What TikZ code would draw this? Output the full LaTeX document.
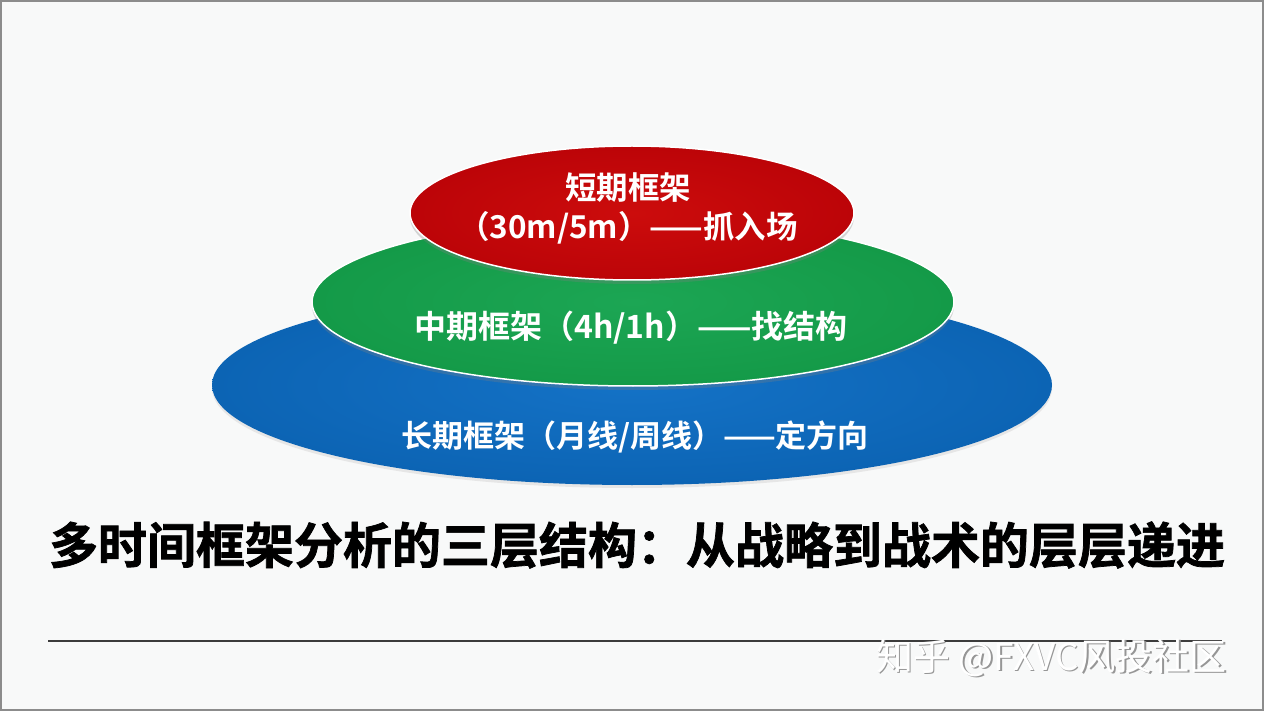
\documentclass[tikz,border=0pt]{standalone}
\usepackage{fontspec}
\newfontfamily\cjk{Noto Sans CJK SC}
\newfontfamily\cjkbold{Noto Sans CJK SC Bold}
\newfontfamily\cjkheavy[FakeBold=1.5]{Noto Sans CJK SC Bold}
\usetikzlibrary{shapes.geometric,shadows}
\definecolor{bg}{RGB}{248,249,249}
\definecolor{frame}{RGB}{140,140,140}
\definecolor{redIn}{RGB}{204,12,12}
\definecolor{redOut}{RGB}{188,4,8}
\definecolor{greenIn}{RGB}{28,166,84}
\definecolor{greenOut}{RGB}{20,154,72}
\definecolor{blueIn}{RGB}{20,114,198}
\definecolor{blueOut}{RGB}{12,100,180}
\definecolor{rule}{RGB}{60,60,60}
\definecolor{wmshadow}{RGB}{150,150,150}
\tikzset{
  layer/.style={ellipse, inner sep=0pt, outer sep=0pt, shading=radial},
  lbl/.style={text=white, font=\cjkbold\fontsize{31}{40}\selectfont, inner sep=0pt},
}
\begin{document}
\begin{tikzpicture}[x=1pt, y=-1pt]
\useasboundingbox (0,0) rectangle (1264,711);
\fill[bg] (0,0) rectangle (1264,711);
\draw[frame, line width=2pt] (1,1) rectangle (1263,710);
% layers
\node[layer, inner color=blueIn, outer color=blueOut, minimum width=840pt, minimum height=200pt,
      drop shadow={opacity=0.15, shadow xshift=0pt, shadow yshift=-3pt}] (long) at (632,385) {};
\node[layer, inner color=greenIn, outer color=greenOut, minimum width=642pt, minimum height=168pt,
      drop shadow={opacity=0.3, shadow xshift=0pt, shadow yshift=-4pt}] (mid) at (633,302) {};
\draw[white, line width=1.5pt] (mid.center) ellipse [x radius=321pt, y radius=84pt];
\node[layer, inner color=redIn, outer color=redOut, minimum width=444pt, minimum height=134pt,
      drop shadow={opacity=0.3, shadow xshift=0pt, shadow yshift=-4pt}] (short) at (632,213) {};
\draw[white, line width=1.5pt] (short.center) ellipse [x radius=222pt, y radius=67pt];
% labels
\node[lbl] (tlong) at (635,437) {长期框架（月线/周线）——定方向};
\node[lbl, font=\cjkbold\fontsize{32}{40}\selectfont] (tmid) at (631,328) {中期框架（4h/1h）——找结构};
\node[lbl, align=center, font=\cjkbold\fontsize{31.5}{39}\selectfont] (tshort) at (628,208) {短期框架\\（30m/5m）——抓入场};
% title
\node[font=\cjkheavy\fontsize{49}{56}\selectfont, inner sep=0pt] (title) at (637,545) {多时间框架分析的三层结构：从战略到战术的层层递进};
% rule
\coordinate (ruleL) at (48,641);
\coordinate (ruleR) at (1222,641);
\draw[rule, line width=1.3pt] (ruleL) -- (ruleR);
% watermark
\node[text=wmshadow, font=\cjk\fontsize{37}{42}\selectfont, inner sep=0pt] (wms) at (1053,659.5) {知乎 @FXVC风投社区};
\node[text=white, font=\cjk\fontsize{37}{42}\selectfont, inner sep=0pt] (wm) at (1051.5,658) {知乎 @FXVC风投社区};
\end{tikzpicture}
\end{document}
